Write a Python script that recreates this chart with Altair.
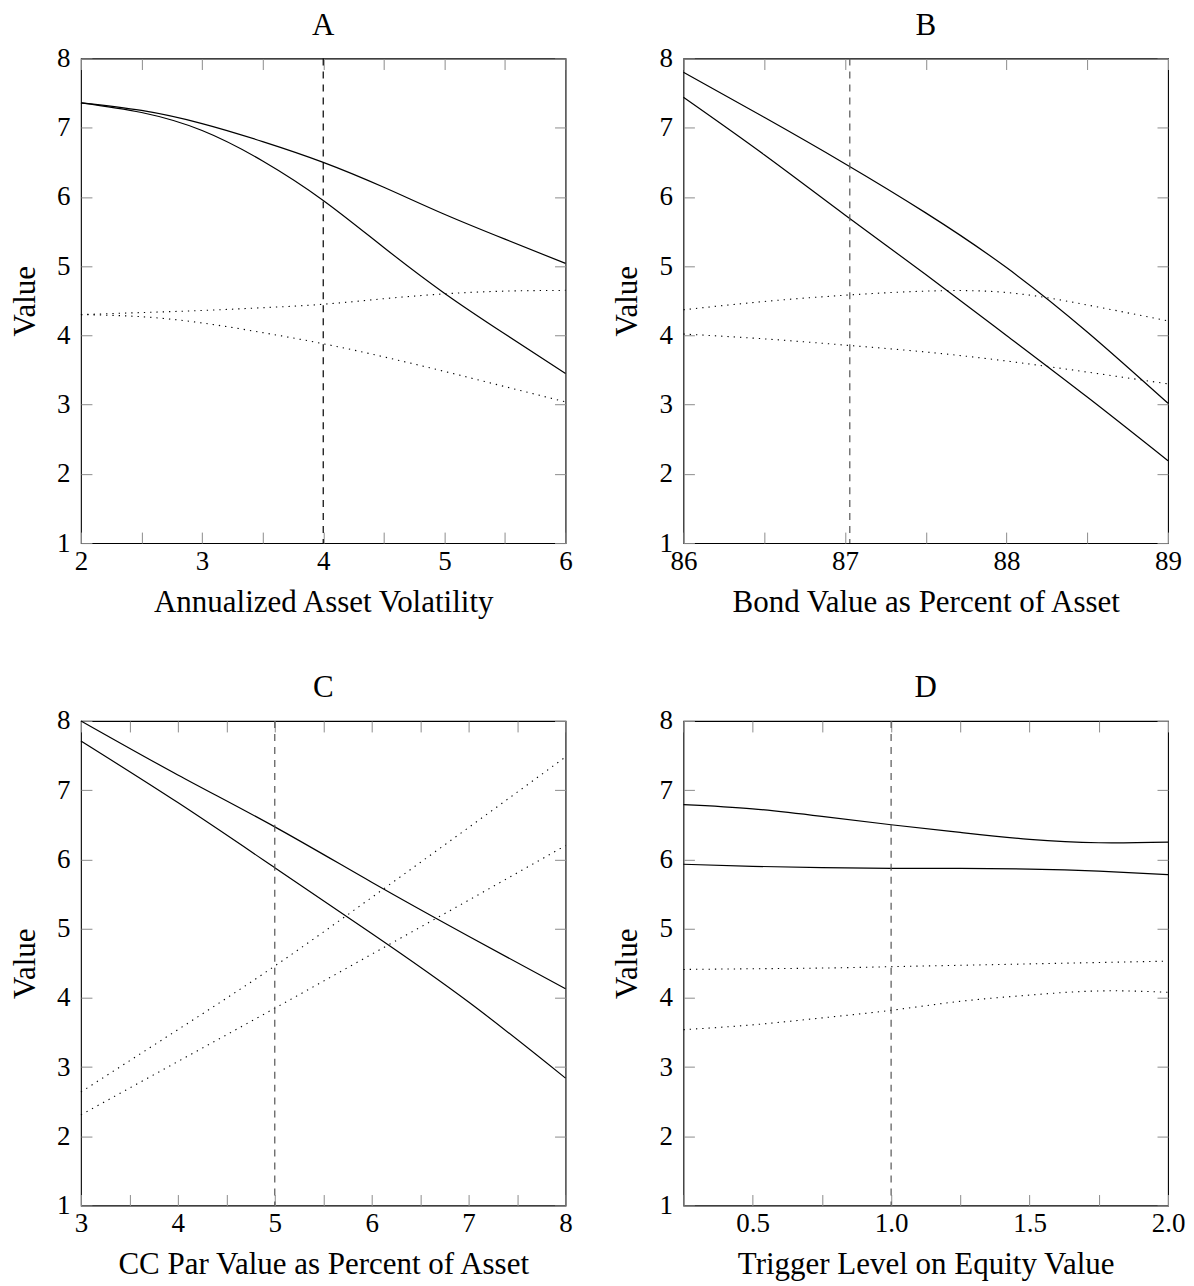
import altair as alt
import pandas as pd

FONT = "Liberation Serif"

# ---------------- data ----------------
A_x = [2, 2.5, 3, 3.5, 4, 4.5, 5, 5.5, 6]
A_solid_upper = [7.36, 7.25, 7.06, 6.80, 6.50, 6.14, 5.75, 5.39, 5.04]
A_solid_lower = [7.36, 7.22, 6.96, 6.52, 5.95, 5.27, 4.61, 4.02, 3.45]
A_dot_upper = [4.30, 4.33, 4.36, 4.40, 4.45, 4.53, 4.60, 4.64, 4.65]
A_dot_lower = [4.30, 4.27, 4.18, 4.04, 3.88, 3.69, 3.48, 3.26, 3.04]

B_x = [86, 86.5, 87, 87.5, 88, 88.5, 89]
B_solid_upper = [7.80, 7.15, 6.48, 5.77, 4.98, 4.05, 3.02]
B_solid_lower = [7.44, 6.61, 5.74, 4.88, 4.00, 3.11, 2.19]
B_dot_upper = [4.37, 4.49, 4.58, 4.64, 4.62, 4.44, 4.21]
B_dot_lower = [4.02, 3.95, 3.86, 3.76, 3.63, 3.47, 3.30]

C_x = [3, 4, 5, 6, 7, 8]
C_solid_upper = [8.00, 7.22, 6.47, 5.67, 4.89, 4.13]
C_solid_lower = [7.71, 6.82, 5.88, 4.93, 3.94, 2.84]
C_dot_upper = [2.64, 3.54, 4.46, 5.45, 6.46, 7.48]
C_dot_lower = [2.31, 3.08, 3.85, 4.63, 5.41, 6.20]

D_x = [0.25, 0.5, 0.75, 1.0, 1.25, 1.5, 1.75, 2.0]
D_solid_upper = [6.79, 6.73, 6.62, 6.50, 6.39, 6.29, 6.24, 6.25]
D_solid_lower = [5.93, 5.90, 5.88, 5.87, 5.87, 5.86, 5.83, 5.78]
D_dot_upper = [4.41, 4.42, 4.43, 4.45, 4.47, 4.49, 4.51, 4.53]
D_dot_lower = [3.54, 3.61, 3.71, 3.82, 3.95, 4.04, 4.10, 4.08]

panel_titles = ["A", "B", "C", "D"]
x_titles = ["Annualized Asset Volatility", "Bond Value as Percent of Asset",
            "CC Par Value as Percent of Asset", "Trigger Level on Equity Value"]
x_domains = [[2, 6], [86, 89], [3, 8], [0.25, 2.0]]
x_ticks = [[2, 2.5, 3, 3.5, 4, 4.5, 5, 5.5, 6],
           [86, 86.5, 87, 87.5, 88, 88.5, 89],
           [3, 3.5, 4, 4.5, 5, 5.5, 6, 6.5, 7, 7.5, 8],
           [0.25, 0.5, 0.75, 1.0, 1.25, 1.5, 1.75, 2.0]]
x_label_exprs = [
    "abs(datum.value - round(datum.value)) < 1e-6 ? format(datum.value, 'd') : ''",
    "abs(datum.value - round(datum.value)) < 1e-6 ? format(datum.value, 'd') : ''",
    "abs(datum.value - round(datum.value)) < 1e-6 ? format(datum.value, 'd') : ''",
    "abs(datum.value*2 - round(datum.value*2)) < 1e-6 ? format(datum.value, '.1f') : ''",
]
v_lines = [4, 87.03, 5, 1.0]
v_colors = ["#000000", "#555555", "#555555", "#555555"]
y_ticks = [1, 2, 3, 4, 5, 6, 7, 8]
y_domain = [1, 8]

series_sets = [
    (A_x, A_solid_upper, A_solid_lower, A_dot_upper, A_dot_lower),
    (B_x, B_solid_upper, B_solid_lower, B_dot_upper, B_dot_lower),
    (C_x, C_solid_upper, C_solid_lower, C_dot_upper, C_dot_lower),
    (D_x, D_solid_upper, D_solid_lower, D_dot_upper, D_dot_lower),
]

W = 485
H = 485
TICK = 11
TICK_COLOR = "#8c8c8c"
INTERP = "natural"


def make_panel(i):
    xs, su, sl, du, dl = series_sets[i]
    rows = []
    for name, style, vals in [("su", "solid", su), ("sl", "solid", sl),
                              ("du", "dotted", du), ("dl", "dotted", dl)]:
        for xv, yv in zip(xs, vals):
            rows.append({"x": xv, "v": yv, "series": name, "style": style})
    df = pd.DataFrame(rows)

    xscale = alt.Scale(domain=x_domains[i], nice=False, zero=False)
    yscale = alt.Scale(domain=y_domain, nice=False, zero=False)

    x_bottom = alt.Axis(
        orient="bottom", values=x_ticks[i], labelExpr=x_label_exprs[i],
        offset=-TICK, tickSize=TICK, tickColor=TICK_COLOR, tickWidth=1,
        domain=False, grid=False, labelFont=FONT, labelFontSize=27,
        labelColor="black", labelPadding=5, labelFlush=False,
        labelOverlap=False, labelBound=False,
        title=x_titles[i], titleFont=FONT, titleFontSize=31,
        titleFontWeight="normal", titleColor="black", titlePadding=13)
    y_left = alt.Axis(
        orient="left", values=y_ticks, format="d",
        offset=-TICK, tickSize=TICK, tickColor=TICK_COLOR, tickWidth=1,
        domain=False, grid=False, labelFont=FONT, labelFontSize=27,
        labelColor="black", labelPadding=11, labelFlush=False,
        labelOverlap=False, labelBound=False,
        title="Value", titleFont=FONT, titleFontSize=31,
        titleFontWeight="normal", titleColor="black", titlePadding=15)
    x_top = alt.Axis(
        orient="top", values=x_ticks[i], labels=False,
        offset=-TICK, tickSize=TICK, tickColor=TICK_COLOR, tickWidth=1,
        domain=False, grid=False, title=None, minExtent=0, maxExtent=0)
    y_right = alt.Axis(
        orient="right", values=y_ticks, labels=False,
        offset=-TICK, tickSize=TICK, tickColor=TICK_COLOR, tickWidth=1,
        domain=False, grid=False, title=None, minExtent=0, maxExtent=0)

    base = alt.Chart(df)
    solid = base.transform_filter(alt.datum.style == "solid").mark_line(
        color="black", strokeWidth=1.2, interpolate=INTERP
    ).encode(
        x=alt.X("x:Q", scale=xscale, axis=x_bottom),
        y=alt.Y("v:Q", scale=yscale, axis=y_left),
        detail="series:N",
    )
    dotted = base.transform_filter(alt.datum.style == "dotted").mark_line(
        color="black", strokeWidth=1.1, strokeDash=[1.3, 5],
        interpolate=INTERP
    ).encode(
        x=alt.X("x:Q", scale=xscale, axis=x_top),
        y=alt.Y("v:Q", scale=yscale, axis=y_right),
        detail="series:N",
    )
    vrule = alt.Chart(pd.DataFrame({"x": [v_lines[i]]})).mark_rule(
        color=v_colors[i], strokeWidth=1.2, strokeDash=[7, 6]
    ).encode(
        x=alt.X("x:Q", scale=xscale, axis=None),
    )
    layer = alt.layer(solid, dotted, vrule).resolve_axis(
        x="independent", y="independent"
    ).properties(
        width=W, height=H,
        title=alt.TitleParams(text=panel_titles[i], font=FONT, fontSize=31,
                              fontWeight="normal", color="black", offset=3),
    )
    return layer


panels = [make_panel(i) for i in range(4)]

chart = alt.concat(
    *panels, columns=2, spacing={"row": 178, "column": 118}, bounds="flush"
).configure_view(
    stroke="black", strokeWidth=1.1
).properties(
    padding={"left": 0, "top": 0, "right": 0, "bottom": 0},
    background="white",
)

chart.save("out.html", embed_options={"renderer": "svg", "actions": False})
